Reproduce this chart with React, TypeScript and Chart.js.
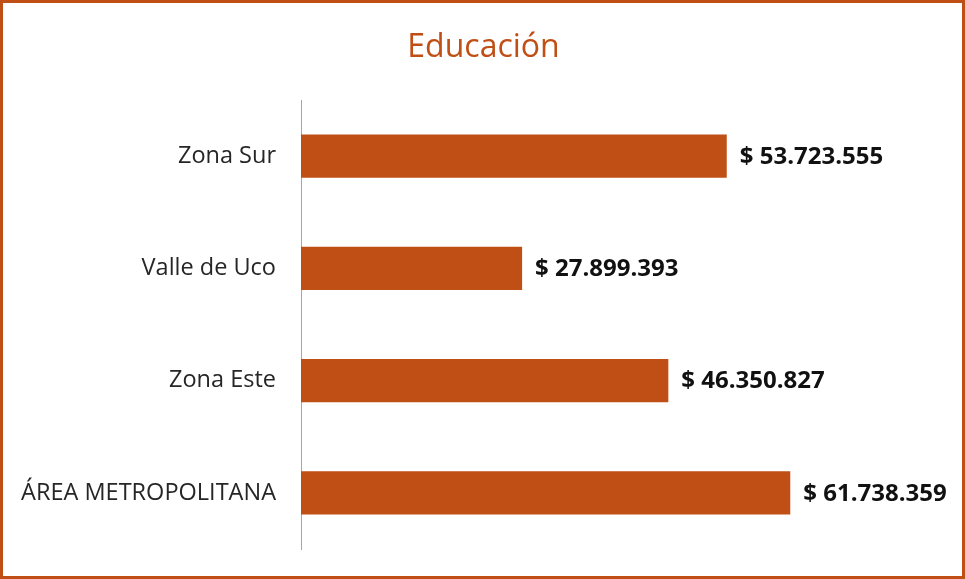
import React, { useEffect, useRef } from "react";
import { Chart, registerables } from "chart.js";

Chart.register(...registerables);

const categories = ["Zona Sur", "Valle de Uco", "Zona Este", "ÁREA METROPOLITANA"];
const values = [53723555, 27899393, 46350827, 61738359];
const valueLabels = ["$ 53.723.555", "$ 27.899.393", "$ 46.350.827", "$ 61.738.359"];
const titleText = "Educación";

const ORANGE = "#C04F15";
const FONT = "'Open Sans', sans-serif";

const valueLabelPlugin = {
  id: "valueLabels",
  afterDatasetsDraw(chart: any) {
    const ctx = chart.ctx;
    const meta = chart.getDatasetMeta(0);
    ctx.save();
    ctx.font = `bold 24px ${FONT}`;
    ctx.fillStyle = "#111111";
    ctx.textAlign = "left";
    ctx.textBaseline = "middle";
    meta.data.forEach((bar: any, i: number) => {
      ctx.fillText(valueLabels[i], bar.x + 13, bar.y + 1);
    });
    ctx.restore();
  },
};

const titlePlugin = {
  id: "centerTitle",
  afterDraw(chart: any) {
    const ctx = chart.ctx;
    ctx.save();
    ctx.font = `32px ${FONT}`;
    ctx.fillStyle = ORANGE;
    ctx.textAlign = "center";
    ctx.textBaseline = "alphabetic";
    ctx.fillText(titleText, chart.width / 2 + 1, 54);
    ctx.restore();
  },
};

export default function App() {
  const ref = useRef<HTMLCanvasElement>(null);
  useEffect(() => {
    if (!ref.current) return;
    const chart = new Chart(ref.current, {
      type: "bar",
      data: {
        labels: categories,
        datasets: [
          {
            data: values,
            backgroundColor: ORANGE,
            barPercentage: 0.77,
            categoryPercentage: 0.5,
          },
        ],
      },
      options: {
        indexAxis: "y",
        animation: false,
        responsive: false,
        maintainAspectRatio: false,
        layout: { padding: { top: 97, bottom: 27, left: 0, right: 27 } },
        plugins: {
          legend: { display: false },
          tooltip: { enabled: false },
          title: { display: false },
        },
        scales: {
          x: { display: false, min: 0, max: 80000000 },
          y: {
            grid: { display: false },
            border: { display: true, color: "#A6A6A6", width: 1 },
            ticks: {
              color: "#262626",
              padding: 17,
              font: { family: FONT, size: 23.5 },
            },
            afterFit(scale: any) {
              scale.width = 298;
              scale.paddingTop = 0;
              scale.paddingBottom = 0;
            },
          },
        },
      },
      plugins: [valueLabelPlugin, titlePlugin],
    });
    return () => chart.destroy();
  }, []);
  return (
    <div
      style={{
        position: "fixed",
        left: 0,
        top: 0,
        width: 965,
        height: 579,
        boxSizing: "border-box",
        border: `3px solid ${ORANGE}`,
        background: "#fff",
      }}
    >
      <canvas ref={ref} width={959} height={573} style={{ display: "block" }} />
    </div>
  );
}
